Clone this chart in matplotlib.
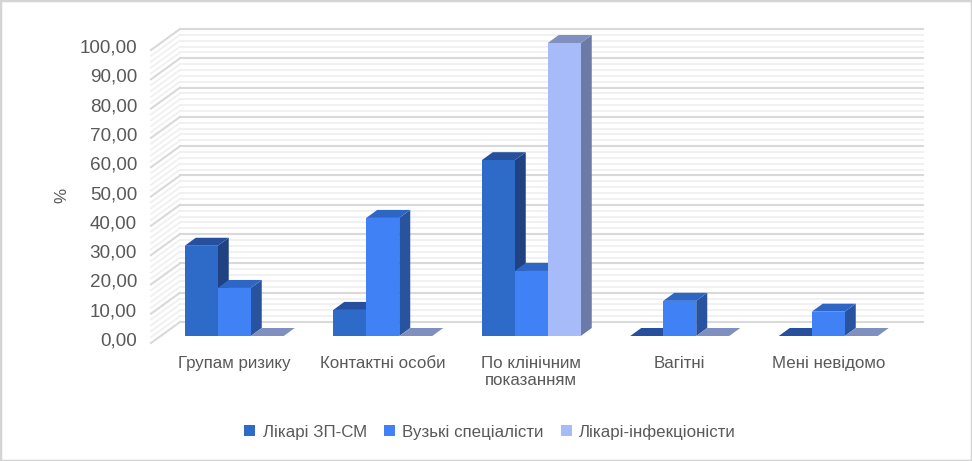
import matplotlib
matplotlib.use("Agg")
import matplotlib.pyplot as plt
from matplotlib.patches import Polygon, Patch, Rectangle

plt.rcParams['font.family'] = ['Liberation Sans', 'DejaVu Sans']

categories = ["Групам ризику", "Контактні особи", "По клінічним\nпоказанням", "Вагітні", "Мені невідомо"]
series_names = ["Лікарі ЗП-СМ", "Вузькі спеціалісти", "Лікарі-інфекціоністи"]
likari_zp = [30.8, 8.9, 60.0, 0.0, 0.0]
vuzki = [16.4, 40.3, 22.2, 12.0, 8.3]
infektsionisty = [0.0, 0.0, 100.0, 0.0, 0.0]
y_ticks = [0, 10, 20, 30, 40, 50, 60, 70, 80, 90, 100]

W, H = 972, 461
SLOT_PX = 148.5
UNIT_PX = 2.93
px_x = lambda p: p / SLOT_PX
px_y = lambda p: p / UNIT_PX

FRONT = ['#2e6bc9', '#4082f5', '#a6bbf8']
TOP = ['#26509e', '#2e66c6', '#7f90c0']
SIDE = ['#204282', '#28539f', '#6b7aa6']
TEXT = '#595959'

fig = plt.figure(figsize=(W / 100, H / 100), dpi=100)
fig.patches.append(Rectangle((0, 0), 1, 1, transform=fig.transFigure, fill=False,
                             edgecolor='#d4d4d4', linewidth=2.5))

# axes: slot edges 0..5 on the bar plane, value 0..100
ax = fig.add_axes([160 / W, 1 - 336 / H, SLOT_PX * 5 / W, 100 * UNIT_PX / H])
ax.set_xlim(0, 5)
ax.set_ylim(0, 100)
ax.axis('off')

# back wall and left wall grid, minor every 2, major every 10
wall_left, wall_right = px_x(20), 5 + px_x(20)
for v in range(0, 101, 2):
    major = v % 10 == 0
    col = '#d9d9d9' if major else '#f0f0f0'
    lw = 1.5 if major else 1.3
    ax.plot([wall_left, wall_right], [v + px_y(14)] * 2, color=col, lw=lw, clip_on=False, zorder=1)
    ax.plot([px_x(-9), wall_left], [v - px_y(7), v + px_y(14)], color=col, lw=lw, clip_on=False, zorder=1)

bar_w = px_x(33)
depth_x, depth_y = px_x(11), px_y(8)
gap = px_x(24.75)
all_series = [likari_zp, vuzki, infektsionisty]
z = 3
for c in range(len(categories)):
    for s, values in enumerate(all_series):
        v = values[c]
        x0 = c + gap + s * bar_w
        x1 = x0 + bar_w
        ax.add_patch(Polygon([(x1, 0), (x1 + depth_x, depth_y), (x1 + depth_x, v + depth_y), (x1, v)],
                             facecolor=SIDE[s], edgecolor='none', clip_on=False, zorder=z))
        ax.add_patch(Polygon([(x0, v), (x1, v), (x1 + depth_x, v + depth_y), (x0 + depth_x, v + depth_y)],
                             facecolor=TOP[s], edgecolor='none', clip_on=False, zorder=z))
        ax.bar(x0, v, width=bar_w, align='edge', color=FRONT[s], clip_on=False, zorder=z)
        z += 1

for v in y_ticks:
    ax.text(px_x(-23), v - px_y(5), f"{v},00", ha='right', va='center', color=TEXT,
            fontsize=13.6, clip_on=False)

for c, name in enumerate(categories):
    ax.text(c + 0.5 - px_x(0), px_y(-20), name, ha='center', va='top', color=TEXT,
            fontsize=12.2, linespacing=1.15, clip_on=False)

ax.text(px_x(-98), 48, "%", rotation=90, ha='center', va='center', color=TEXT, fontsize=12.2)

handles = [Patch(facecolor=FRONT[i], label=series_names[i]) for i in range(3)]
fig.legend(handles=handles, loc='center', bbox_to_anchor=(490 / W, 1 - 432 / H), ncol=3, frameon=False,
           fontsize=12.2, labelcolor=TEXT, handlelength=0.65, handleheight=0.65,
           handletextpad=0.45, columnspacing=1.0)

fig.savefig("out.png", dpi=100)
